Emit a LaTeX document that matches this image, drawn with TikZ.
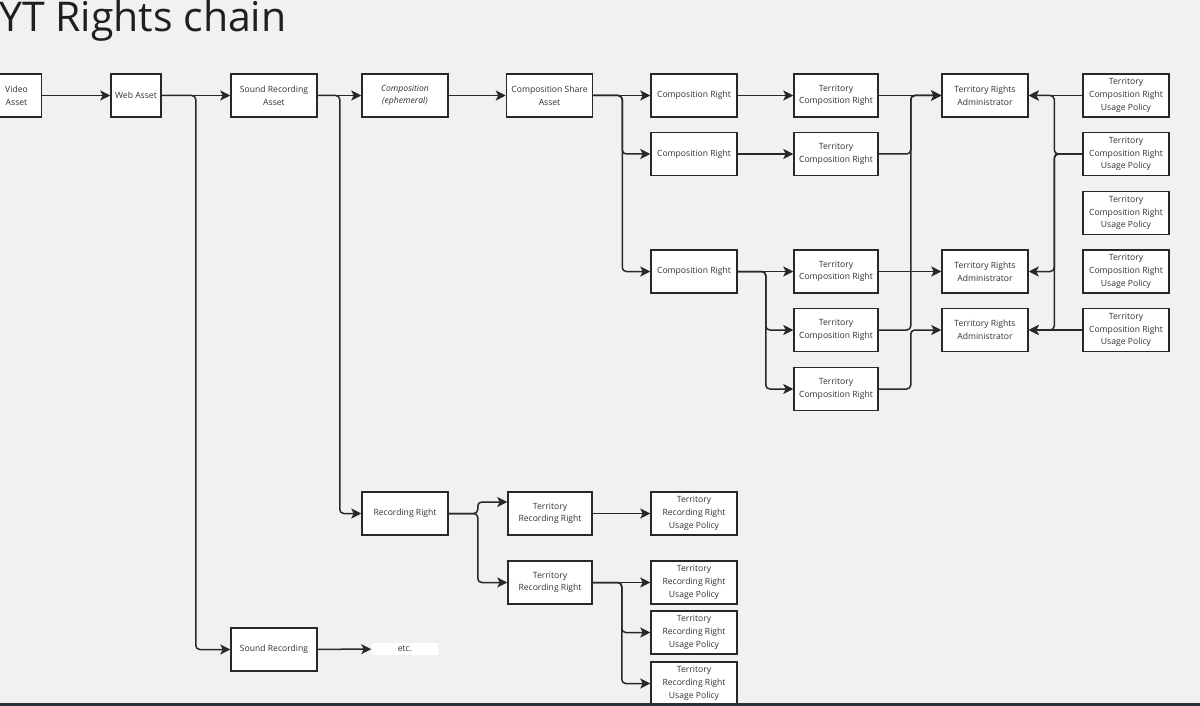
\documentclass[tikz,border=0pt]{standalone}
\usepackage{fontspec}
\setmainfont{Open Sans}
\usetikzlibrary{arrows.meta}

\definecolor{pagegray}{RGB}{241,241,241}
\definecolor{boxline}{RGB}{40,40,40}
\definecolor{boxtext}{RGB}{50,50,50}
\definecolor{barblue}{RGB}{38,50,58}

\begin{document}
\begin{tikzpicture}[x=1pt, y=-1pt,
    box/.style={draw=boxline, fill=white, line width=1.5pt, inner sep=0pt,
      minimum width=86pt, minimum height=43pt, align=center, text=boxtext,
      font=\fontsize{8.6}{12.7}\selectfont},
    arr/.style={draw=boxline, line width=1.5pt, -{Stealth[length=10pt, width=10pt, inset=2.5pt]}},
    bus/.style={arr, rounded corners=4pt}]
  \useasboundingbox (0,0) rectangle (1200,706);
  \fill[pagegray] (0,0) rectangle (1200,706);
  \node[anchor=base west, inner sep=0pt, text=black!88, font=\fontsize{41}{42}\selectfont]
    (title) at (-1,32) {YT Rights chain};
  % asset chain
  \node[box, minimum width=50pt] (video) at (16.5,95.5) {Video\\Asset};
  \node[box, minimum width=50pt] (web) at (136,95.5) {Web Asset};
  \node[box] (sra) at (274,95.5) {Sound Recording\\Asset};
  \node[box, font=\fontsize{8.6}{12.7}\selectfont\itshape] (comp) at (405,95.5) {Composition\\(ephemeral)};
  \node[box] (csa) at (549.5,95.5) {Composition Share\\Asset};
  % composition rights
  \node[box] (cr1) at (694,95.5) {Composition Right};
  \node[box] (cr2) at (694,154) {Composition Right};
  \node[box] (cr3) at (694,271.5) {Composition Right};
  \foreach \i/\y in {1/95.5, 2/154, 3/271.5, 4/330, 5/389}
    \node[box, minimum width=84pt] (tcr\i) at (836,\y) {Territory\\Composition Right};
  \foreach \i/\y in {1/95.5, 2/271.5, 3/330}
    \node[box] (tra\i) at (985,\y) {Territory Rights\\Administrator};
  \foreach \i/\y in {1/95.5, 2/154, 3/213, 4/271.5, 5/330}
    \node[box] (pol\i) at (1126,\y) {Territory\\Composition Right\\Usage Policy};
  % recording rights
  \node[box] (rr) at (405,513.5) {Recording Right};
  \node[box, minimum width=84pt] (trr1) at (550,513.5) {Territory\\Recording Right};
  \node[box, minimum width=84pt] (trr2) at (550,582.5) {Territory\\Recording Right};
  \foreach \i/\y in {1/513.5, 2/582.5, 3/632.5, 4/683.5}
    \node[box] (rpol\i) at (694,\y) {Territory\\Recording Right\\Usage Policy};
  \node[box] (sr) at (274,649.5) {Sound Recording};
  \node[box, draw=none, minimum width=66pt, minimum height=12pt] (etc) at (405,649) {etc.};

  \draw[arr] (video) -- (web);
  \draw[arr] (web) -- (sra);
  \draw[arr] (sra) -- (comp);
  \draw[arr] (comp) -- (csa);
  \draw[arr] (csa) -- (cr1);
  \draw[arr] (cr1) -- (tcr1);
  \draw[arr] (cr2) -- (tcr2);
  \draw[arr] (cr3) -- (tcr3);
  \draw[bus] (web.east) -- ++(34,0) |- (sr.west);
  \draw[bus] (sra.east) -- ++(22,0) |- (rr.west);
  \draw[bus] (csa.east) -- ++(29,0) |- (cr2.west);
  \draw[bus] (csa.east) -- ++(29,0) |- (cr3.west);
  \draw[bus] (cr3.east) -- ++(28,0) |- (tcr4.west);
  \draw[bus] (cr3.east) -- ++(28,0) |- (tcr5.west);
  % territory rights to administrators
  \draw[arr] (tcr1) -- (tra1);
  \draw[arr] (tcr3) -- (tra2);
  \draw[bus] (tcr2.east) -- ++(32,0) |- (tra1.west);
  \draw[bus] (tcr4.east) -- ++(32,0) |- (tra1.west);
  \draw[bus] (tcr5.east) -- ++(32,0) |- (tra3.west);
  \draw[arr] (pol1) -- (tra1);
  \draw[arr] (pol5) -- (tra3);
  \draw[bus] (pol2.west) -- ++(-28,0) |- (tra1.east);
  \draw[bus] (pol2.west) -- ++(-28,0) |- (tra2.east);
  \draw[bus] (pol2.west) -- ++(-28,0) |- (tra3.east);
  % recording side
  \draw[bus] (rr.east) -- ++(29,0) |- ([yshift=11.5pt]trr1.west);
  \draw[bus] (rr.east) -- ++(29,0) |- (trr2.west);
  \draw[arr] (trr1) -- (rpol1);
  \draw[arr] (trr2) -- (rpol2);
  \draw[bus] (trr2.east) -- ++(29,0) |- (rpol3.west);
  \draw[bus] (trr2.east) -- ++(29,0) |- (rpol4.west);
  \draw[arr] (sr) -- (etc);
  \fill[barblue] (0,703) rectangle (1200,706);
\end{tikzpicture}
\end{document}
